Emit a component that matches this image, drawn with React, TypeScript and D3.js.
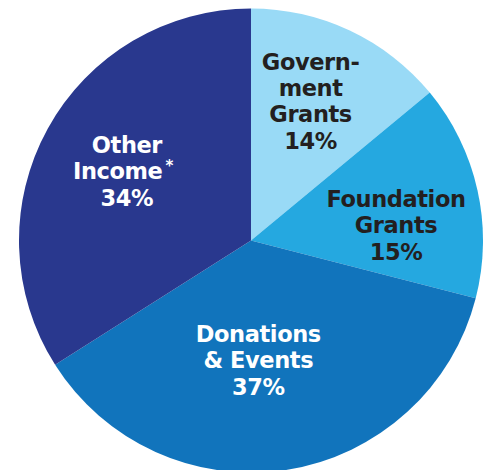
import React from "react";
import * as d3 from "d3";

const categories = ["Government Grants", "Foundation Grants", "Donations & Events", "Other Income"];
const shares = [14, 15, 37, 34];
const labelLines = [
  ["Govern-", "ment", "Grants", "14%"],
  ["Foundation", "Grants", "15%"],
  ["Donations", "& Events", "37%"],
  ["Other", "Income", "34%"],
];
const footnoteMarks = ["", "", "", "*"];
const sliceColors = ["#99DAF6", "#25A8E0", "#1174BC", "#29388E"];
const textColors = ["#231F20", "#231F20", "#FFFFFF", "#FFFFFF"];
// label nudges relative to arc centroid (layout only)
const labelNudge: [number, number][] = [
  [0, -12.7],
  [8.4, 15.2],
  [-14.6, -18.5],
  [-1.4, -1.9],
];

const W = 485;
const H = 470;
const CX = 251;
const CY = 240.5;
const R = 232;
const FONT = 22.5;
const LINE = 26.3;
const CAP = 16.4;

export default function App() {
  const pie = d3
    .pie<number>()
    .sort(null)
    .value((d) => d)
    .startAngle(0)
    .endAngle(2 * Math.PI);
  const arcs = pie(shares);
  const arc = d3.arc<d3.PieArcDatum<number>>().innerRadius(0).outerRadius(R);
  const labelArc = d3.arc<d3.PieArcDatum<number>>().innerRadius(140).outerRadius(140);

  return (
    <svg
      width={W}
      height={H}
      style={{ position: "absolute", left: 0, top: 0, background: "#fff" }}
    >
      <g transform={`translate(${CX},${CY})`}>
        {arcs.map((a, i) => (
          <path key={categories[i]} d={arc(a) || ""} fill={sliceColors[i]} />
        ))}
        {arcs.map((a, i) => {
          const [cx, cy] = labelArc.centroid(a);
          const x = cx + labelNudge[i][0];
          const yc = cy + labelNudge[i][1];
          const lines = labelLines[i];
          const b1 = yc - ((lines.length - 1) * LINE - CAP) / 2;
          return (
            <g key={"t" + i}>
              {lines.map((ln, j) => {
                const mark = j === 1 ? footnoteMarks[i] : "";
                return (
                  <text
                    key={j}
                    x={mark ? x - 4 : x}
                    y={b1 + j * LINE}
                    textAnchor="middle"
                    fill={textColors[i]}
                    fontFamily="'DejaVu Sans', sans-serif"
                    fontWeight="bold"
                    fontSize={FONT}
                    letterSpacing={-0.4}
                  >
                    {ln}
                    {mark ? (
                      <tspan fontSize={15} dx={3} dy={-8}>
                        {mark}
                      </tspan>
                    ) : null}
                  </text>
                );
              })}
            </g>
          );
        })}
      </g>
    </svg>
  );
}
